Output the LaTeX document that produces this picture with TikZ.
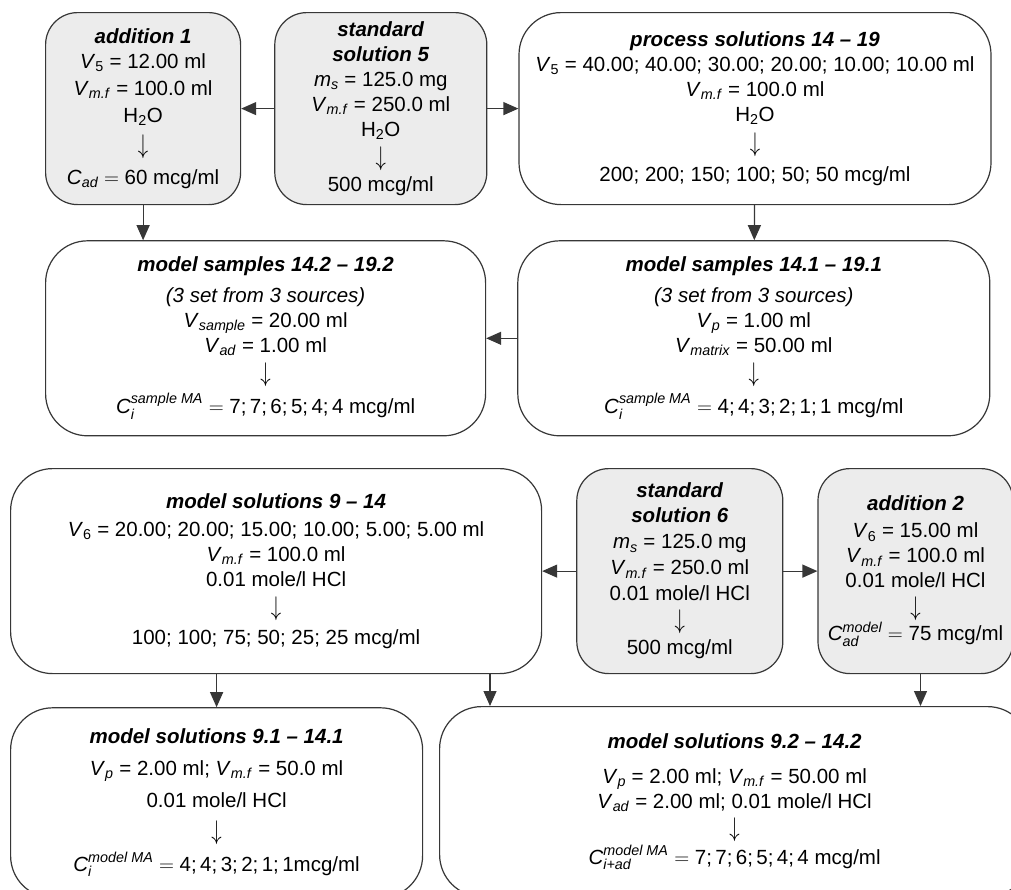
\documentclass[tikz,border=0pt]{standalone}
\usepackage{amsmath}
\usepackage{fontspec}
\setmainfont{Liberation Sans}
\usepackage{tikz}
\usetikzlibrary{positioning,arrows.meta}

\definecolor{boxline}{RGB}{55,55,55}
\definecolor{boxfill}{RGB}{236,236,236}
\definecolor{linkcol}{RGB}{55,55,55}

\newcommand{\boxfont}{\fontsize{20.5}{25}\selectfont}
\newcommand{\boxtitle}[1]{\textbf{\textit{#1}}}
\newcommand{\Vol}[1]{\textit{V}\textsubscript{#1}}
\newcommand{\yields}{\scalebox{1}[1.3]{$\downarrow$}}

\begin{document}
\begin{tikzpicture}
[x=1pt, y=1pt,
graybox/.style={rectangle, rounded corners=32pt, draw=boxline, fill=boxfill, line width=1.2pt, align=center, inner sep=0pt, font=\boxfont},
whitebox/.style={graybox, fill=white, rounded corners=42pt},
link/.style={draw=linkcol, line width=1.2pt, -{Triangle[length=15pt,width=13pt]}},
]
\useasboundingbox (0,0) rectangle (1011,-889);

% upper part: water solutions
\node[graybox, minimum width=195pt, minimum height=192pt, anchor=north west] (add1) at (45,-12)
  {\boxtitle{addition 1}\\ \Vol{5} = 12.00 ml\\[2pt] \Vol{\textit{m.f}} = 100.0 ml\\[2pt] H\textsubscript{2}O\\[6pt] \yields\\[6pt]
   $\textit{C}_{\textit{ad}} =$ 60 mcg/ml};
\node[graybox, minimum width=212pt, minimum height=192pt] (std5) [right=33pt of add1]
  {\boxtitle{standard}\\ \boxtitle{solution 5}\\ \textit{m}\textsubscript{\textit{s}} = 125.0 mg\\ \Vol{\textit{m.f}} = 250.0 ml\\ H\textsubscript{2}O\\[4pt] \yields\\[1pt] 500 mcg/ml};
\node[whitebox, minimum width=472pt, minimum height=192pt] (proc) [right=31pt of std5]
  {\boxtitle{process solutions 14 – 19}\\ \Vol{5} = 40.00; 40.00; 30.00; 20.00; 10.00; 10.00 ml\\ \Vol{\textit{m.f}} = 100.0 ml\\ H\textsubscript{2}O\\[5pt] \yields\\[5pt] 200; 200; 150; 100; 50; 50 mcg/ml};
\node[whitebox, minimum width=440pt, minimum height=195pt] (samp2) [below=35pt of add1.south west, anchor=north west]
  {\boxtitle{model samples 14.2 – 19.2}\\[6pt] \textit{(3 set from 3 sources)}\\ \Vol{\textit{sample}} = 20.00 ml\\ \Vol{\textit{ad}} = 1.00 ml\\[4pt] \yields\\[5pt]
   $\textit{C}_{\textit{i}}^{\textit{sample MA}} =$ 7;\,7;\,6;\,5;\,4;\,4 mcg/ml};
\node[whitebox, minimum width=472pt, minimum height=195pt] (samp1) [right=31pt of samp2]
  {\boxtitle{model samples 14.1 – 19.1}\\[6pt] \textit{(3 set from 3 sources)}\\ \Vol{\textit{p}} = 1.00 ml\\ \Vol{\textit{matrix}} = 50.00 ml\\[4pt] \yields\\[5pt]
   $\textit{C}_{\textit{i}}^{\textit{sample MA}} =$ 4;\,4;\,3;\,2;\,1;\,1 mcg/ml};

% lower part: HCl solutions
\node[whitebox, minimum width=531pt, minimum height=205pt, anchor=north west] (modsol) at (10,-468)
  {\boxtitle{model solutions 9 – 14}\\[3pt] \Vol{6} = 20.00; 20.00; 15.00; 10.00; 5.00; 5.00 ml\\ \Vol{\textit{m.f}} = 100.0 ml\\ 0.01 mole/l HCl\\[4pt] \yields\\[4pt] 100; 100; 75; 50; 25; 25 mcg/ml};
\node[graybox, minimum width=206pt, minimum height=205pt] (std6) [right=34pt of modsol]
  {\boxtitle{standard}\\ \boxtitle{solution 6}\\[1pt] \textit{m}\textsubscript{\textit{s}} = 125.0 mg\\[1pt] \Vol{\textit{m.f}} = 250.0 ml\\[1pt] 0.01 mole/l HCl\\[3pt] \yields\\[1pt] 500 mcg/ml};
\node[graybox, minimum width=195pt, minimum height=205pt] (add2) [right=34pt of std6]
  {\boxtitle{addition 2}\\[2pt] \Vol{6} = 15.00 ml\\ \Vol{\textit{m.f}} = 100.0 ml\\ 0.01 mole/l HCl\\[3pt] \yields\\
   $\textit{C}_{\textit{ad}}^{\textit{model}} =$ 75 mcg/ml};
\node[whitebox, minimum width=412pt, minimum height=190pt] (mod91) [below=33pt of modsol.south west, anchor=north west]
  {\boxtitle{model solutions 9.1 – 14.1}\\[7pt] \Vol{\textit{p}} = 2.00 ml; \Vol{\textit{m.f}} = 50.0 ml\\[7pt] 0.01 mole/l HCl\\[7pt] \yields\\[7pt]
   $\textit{C}_{\textit{i}}^{\textit{model MA}} =$ 4;\,4;\,3;\,2;\,1;\,1mcg/ml};
\node[whitebox, minimum width=590pt, minimum height=190pt, anchor=north west] (mod92) at (439,-706)
  {\boxtitle{model solutions 9.2 – 14.2}\\[10pt] \Vol{\textit{p}} = 2.00 ml; \Vol{\textit{m.f}} = 50.00 ml\\ \Vol{\textit{ad}} = 2.00 ml; 0.01 mole/l HCl\\[3pt] \yields\\[3pt]
   $\textit{C}_{\textit{i+ad}}^{\textit{model MA}} =$ 7;\,7;\,6;\,5;\,4;\,4 mcg/ml};
\coordinate (feed92) at ([xshift=51pt]mod92.north west);
\coordinate (feedad) at ([xshift=5pt]add2.south);

\draw[link] (std5) -- (add1);
\draw[link] (std5) -- (proc);
\draw[link] (add1) -- (add1 |- samp2.north);
\draw[link] (proc) -- (samp1);
\draw[link] (samp1) -- (samp2);

\draw[link] (std6) -- (modsol);
\draw[link] (std6) -- (add2);
\draw[link] (modsol.south -| mod91) -- (mod91);
\draw[link] (modsol.south -| feed92) -- (feed92);
\draw[link] (feedad) -- (feedad |- mod92.north);
\end{tikzpicture}
\end{document}
